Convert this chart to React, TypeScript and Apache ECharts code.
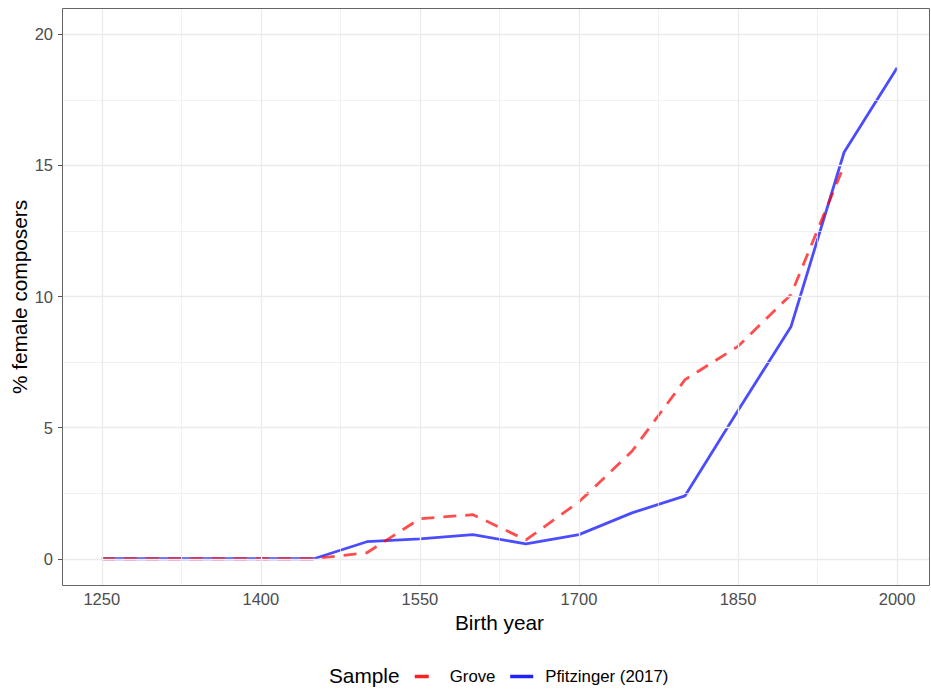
import React, { useEffect, useRef } from "react";
import * as echarts from "echarts";

const years = [1250, 1300, 1350, 1400, 1450, 1500, 1550, 1600, 1650, 1700, 1750, 1800, 1850, 1900, 1950, 2000];
const pfitzinger = [0, 0, 0, 0, 0, 0.65, 0.76, 0.92, 0.57, 0.92, 1.75, 2.4, 5.65, 8.86, 15.5, 18.72];
const groveYears = years.slice(0, 15);
const grove = [0, 0, 0, 0, 0, 0.23, 1.53, 1.68, 0.72, 2.17, 4.1, 6.83, 8.1, 10.08, 15.0];

const xMajor = [1250, 1400, 1550, 1700, 1850, 2000];
const xMinor = [1325, 1475, 1625, 1775, 1925];
const yMajor = [0, 5, 10, 15, 20];
const yMinor = [2.5, 7.5, 12.5, 17.5];

export default function App() {
  const ref = useRef<HTMLDivElement>(null);
  useEffect(() => {
    document.body.style.margin = "0";
    const chart = echarts.init(ref.current!, null, { renderer: "svg" });
    const font = "Liberation Sans";
    const grid = (vals: number[], axis: "xAxis" | "yAxis", w: number) =>
      vals.map((v) => ({ [axis]: v, lineStyle: { color: "#ebebeb", width: w, type: "solid" } }));
    chart.setOption({
      animation: false,
      textStyle: { fontFamily: font },
      grid: { left: 62, right: 1, top: 8, bottom: 107, containLabel: false, outerBoundsMode: "none" },
      xAxis: {
        type: "value",
        min: 1212.5,
        max: 2031,
        name: "Birth year",
        nameLocation: "middle",
        nameGap: 27,
        nameTextStyle: { fontSize: 20.8, color: "#000", fontFamily: font, padding: [0, 0, 0, 7] },
        axisLine: { show: false },
        axisTick: { show: true, length: 4, lineStyle: { color: "#555" }, customValues: xMajor },
        axisLabel: {
          customValues: xMajor,
          color: "#4d4d4d",
          fontSize: 16.5,
          margin: 5,
          fontFamily: font,
          formatter: (v: number) => String(v),
        },
        splitLine: { show: false },
      },
      yAxis: {
        type: "value",
        min: -1,
        max: 21,
        axisLine: { show: false },
        axisTick: { show: true, length: 4, lineStyle: { color: "#555" }, customValues: yMajor },
        axisLabel: {
          customValues: yMajor,
          color: "#4d4d4d",
          fontSize: 16.5,
          margin: 9,
          fontFamily: font,
          formatter: (v: number) => String(v),
        },
        splitLine: { show: false },
      },
      legend: {
        left: 408,
        top: 663,
        itemWidth: 23,
        itemHeight: 14,
        itemGap: 13,
        itemStyle: { opacity: 0 },
        data: [
          { name: "Grove", lineStyle: { color: "#ff2020", width: 3.5, type: [14, 20] } },
          { name: "Pfitzinger (2017)", lineStyle: { color: "#2020ff", width: 3.5, type: "solid" } },
        ],
        textStyle: { fontSize: 16.8, color: "#000", fontFamily: font, padding: [0, 0, 0, 7] },
      },
      graphic: [
        {
          type: "text",
          x: 19,
          y: 297,
          rotation: Math.PI / 2,
          style: {
            text: "% female composers",
            fontSize: 20.8,
            fill: "#000",
            fontFamily: font,
            textAlign: "center",
            textVerticalAlign: "middle",
          },
        },
        {
          type: "text",
          left: 329,
          top: 665,
          style: { text: "Sample", fontSize: 20.8, fill: "#000", fontFamily: font },
        },
        {
          type: "rect",
          shape: { x: 62.5, y: 8.5, width: 867, height: 577 },
          style: { fill: "none", stroke: "#666", lineWidth: 1 },
          z: 100,
          silent: true,
        },
      ],
      series: [
        {
          type: "line",
          name: "_grid",
          data: [[1250, 0]],
          showSymbol: false,
          symbol: "none",
          lineStyle: { width: 0 },
          z: 0,
          silent: true,
          markLine: {
            silent: true,
            symbol: "none",
            label: { show: false },
            emphasis: { disabled: true },
            data: [
              ...grid(xMinor, "xAxis", 0.7),
              ...grid(yMinor, "yAxis", 0.7),
              ...grid(xMajor, "xAxis", 1.3),
              ...grid(yMajor, "yAxis", 1.3),
            ],
          },
        },
        {
          type: "line",
          name: "Pfitzinger (2017)",
          data: years.map((y, i) => [y, pfitzinger[i]]),
          symbol: "none",
          color: "rgba(0,0,255,0.7)",
          lineStyle: { width: 2.8, color: "rgba(0,0,255,0.7)" },
          z: 2,
        },
        {
          type: "line",
          name: "Grove",
          data: groveYears.map((y, i) => [y, grove[i]]),
          symbol: "none",
          color: "rgba(255,0,0,0.7)",
          lineStyle: { width: 2.8, color: "rgba(255,0,0,0.7)", type: [13, 9] },
          z: 3,
        },
      ],
    });
    return () => chart.dispose();
  }, []);
  return <div ref={ref} style={{ width: 931, height: 692 }} />;
}
